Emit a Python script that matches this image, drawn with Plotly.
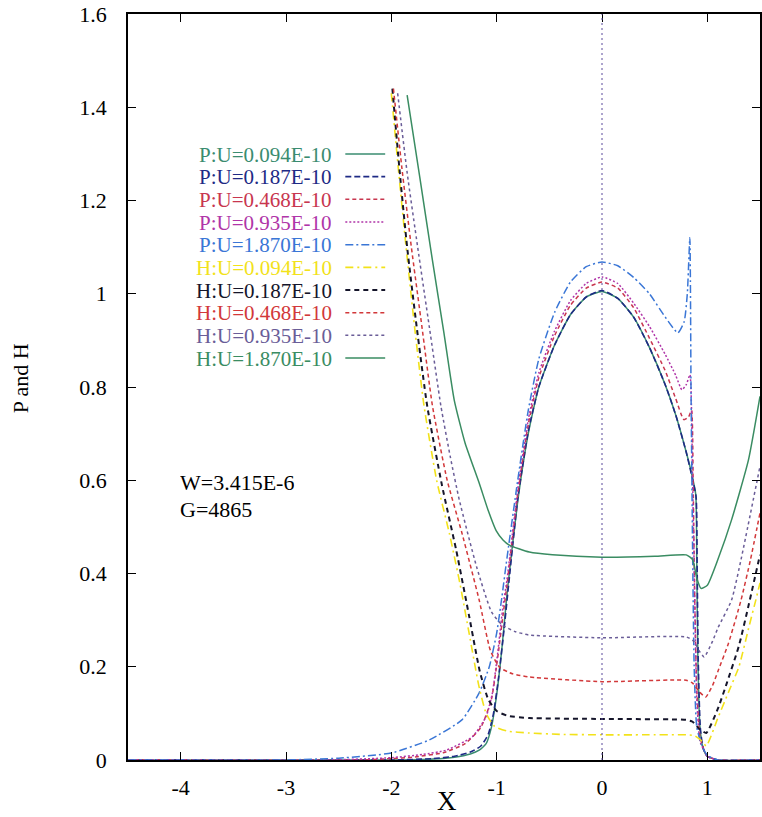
import plotly.graph_objects as go

# ---------------- data ----------------
series_names = ["P:U=0.094E-10", "P:U=0.187E-10", "P:U=0.468E-10", "P:U=0.935E-10", "P:U=1.870E-10",
                "H:U=0.094E-10", "H:U=0.187E-10", "H:U=0.468E-10", "H:U=0.935E-10", "H:U=1.870E-10"]

x_tick_vals = [-4, -3, -2, -1, 0, 1]
x_tick_text = ["-4", "-3", "-2", "-1", "0", "1"]
y_tick_vals = [0, 0.2, 0.4, 0.6, 0.8, 1.0, 1.2, 1.4, 1.6]
y_tick_text = ["0", "0.2", "0.4", "0.6", "0.8", "1", "1.2", "1.4", "1.6"]

p094_x = [-4.5, -2.0, -1.6, -1.4, -1.25, -1.166, -1.1, -1.05, -1.0, -0.95, -0.9, -0.8, -0.7, -0.6, -0.45, -0.3, -0.15, 0.0,
          0.15, 0.3, 0.45, 0.6, 0.7, 0.8, 0.85, 0.89, 0.9, 0.91, 0.93, 0.96, 1.0, 1.1, 1.5]
p094_y = [0, 0, 0.002, 0.006, 0.013, 0.021, 0.035, 0.07, 0.14, 0.24, 0.36, 0.555, 0.70, 0.80, 0.89, 0.955, 0.993, 1.005,
          0.99, 0.95, 0.885, 0.805, 0.74, 0.66, 0.615, 0.57, 0.42, 0.22, 0.07, 0.025, 0.008, 0, 0]

p187_x = [-4.5, -2.0, -1.6, -1.4, -1.25, -1.15, -1.08, -1.03, -0.98, -0.93, -0.88, -0.8, -0.7, -0.6, -0.45, -0.3, -0.15, 0.0,
          0.15, 0.3, 0.45, 0.6, 0.7, 0.8, 0.85, 0.893, 0.903, 0.913, 0.933, 0.96, 1.0, 1.1, 1.5]
p187_y = [0, 0, 0.003, 0.008, 0.017, 0.03, 0.055, 0.1, 0.18, 0.28, 0.39, 0.56, 0.705, 0.80, 0.89, 0.955, 0.993, 1.007,
          0.99, 0.95, 0.885, 0.805, 0.74, 0.66, 0.612, 0.565, 0.42, 0.22, 0.07, 0.025, 0.008, 0, 0]

p468_x = [-4.5, -2.3, -2.0, -1.8, -1.5, -1.3, -1.15, -1.05, -0.99, -0.94, -0.9, -0.8, -0.7, -0.6, -0.45, -0.3, -0.15, 0.0,
          0.15, 0.3, 0.45, 0.6, 0.7, 0.777, 0.82, 0.85, 0.865, 0.88, 0.9, 0.93, 0.97, 1.0, 1.1, 1.5]
p468_y = [0, 0, 0.003, 0.006, 0.016, 0.035, 0.07, 0.13, 0.22, 0.31, 0.38, 0.57, 0.72, 0.82, 0.91, 0.975, 1.012, 1.025,
          1.012, 0.97, 0.905, 0.835, 0.775, 0.73, 0.735, 0.75, 0.60, 0.35, 0.15, 0.05, 0.02, 0.008, 0, 0]

p935_x = [-4.5, -2.6, -2.0, -1.7, -1.48, -1.23, -1.1, -1.04, -0.99, -0.94, -0.9, -0.8, -0.7, -0.6, -0.45, -0.3, -0.15, 0.0,
          0.15, 0.3, 0.45, 0.6, 0.7, 0.758, 0.8, 0.835, 0.86, 0.88, 0.9, 0.93, 0.97, 1.0, 1.1, 1.5]
p935_y = [0, 0, 0.005, 0.012, 0.021, 0.05, 0.093, 0.144, 0.23, 0.33, 0.39, 0.58, 0.73, 0.83, 0.92, 0.985, 1.022, 1.036,
          1.022, 0.98, 0.93, 0.87, 0.825, 0.794, 0.805, 0.826, 0.60, 0.35, 0.13, 0.04, 0.02, 0.008, 0, 0]

p1870_x = [-4.5, -3.0, -2.5, -2.0, -1.64, -1.33, -1.166, -1.07, -1.0, -0.95, -0.91, -0.8, -0.7, -0.6, -0.45, -0.3, -0.15, 0.0,
           0.15, 0.3, 0.45, 0.6, 0.72, 0.78, 0.81, 0.834, 0.845, 0.86, 0.875, 0.9, 0.95, 1.0, 1.1, 1.5]
p1870_y = [0, 0, 0.004, 0.015, 0.043, 0.086, 0.144, 0.2, 0.272, 0.35, 0.42, 0.60, 0.75, 0.86, 0.96, 1.025, 1.058, 1.068,
           1.06, 1.035, 1.0, 0.95, 0.916, 0.94, 1.0, 1.12, 0.80, 0.45, 0.20, 0.07, 0.03, 0.01, 0, 0]

h094_x = [-2.0, -1.93, -1.86, -1.78, -1.69, -1.57, -1.45, -1.35, -1.26, -1.17, -1.1, -1.02, -0.9, -0.7, -0.4, 0.0, 0.4, 0.8,
          0.88, 0.95, 0.99, 1.1, 1.2, 1.3, 1.4, 1.46, 1.5]
h094_y = [1.43, 1.26, 1.10, 0.93, 0.76, 0.60, 0.487, 0.38, 0.27, 0.16, 0.10, 0.072, 0.062, 0.058, 0.055, 0.054, 0.054, 0.054,
          0.052, 0.04, 0.03, 0.09, 0.145, 0.2, 0.29, 0.343, 0.38]

h187_x = [-1.99, -1.92, -1.85, -1.76, -1.66, -1.52, -1.384, -1.26, -1.16, -1.08, -1.0, -0.9, -0.69, 0.0, 0.8, 0.86, 0.93,
          0.99, 1.1, 1.185, 1.3, 1.39, 1.5]
h187_y = [1.44, 1.26, 1.10, 0.93, 0.76, 0.59, 0.45, 0.307, 0.19, 0.13, 0.105, 0.095, 0.09, 0.088, 0.086, 0.082, 0.065,
          0.058, 0.11, 0.165, 0.245, 0.33, 0.44]

h468_x = [-1.98, -1.9, -1.81, -1.71, -1.61, -1.47, -1.33, -1.166, -1.06, -0.97, -0.85, -0.69, 0.0, 0.8, 0.86, 0.93, 0.985,
          1.05, 1.1, 1.2, 1.32, 1.41, 1.5]
h468_y = [1.44, 1.27, 1.10, 0.93, 0.76, 0.60, 0.487, 0.343, 0.235, 0.198, 0.185, 0.178, 0.168, 0.171, 0.165, 0.145, 0.135,
          0.16, 0.19, 0.25, 0.343, 0.43, 0.53]

h935_x = [-1.94, -1.85, -1.75, -1.64, -1.53, -1.44, -1.355, -1.19, -1.05, -0.95, -0.82, -0.69, 0.0, 0.8, 0.87, 0.92, 0.97,
          1.05, 1.1, 1.23, 1.32, 1.5]
h935_y = [1.43, 1.26, 1.10, 0.93, 0.76, 0.65, 0.558, 0.414, 0.318, 0.29, 0.275, 0.268, 0.262, 0.264, 0.255, 0.235, 0.221,
          0.255, 0.283, 0.343, 0.43, 0.63]

h1870_x = [-1.85, -1.73, -1.61, -1.5, -1.403, -1.3, -1.166, -1.08, -1.005, -0.94, -0.88, -0.69, -0.47, 0.0, 0.5, 0.8, 0.86,
           0.9, 0.94, 1.0, 1.1, 1.23, 1.39, 1.5]
h1870_y = [1.426, 1.25, 1.072, 0.915, 0.772, 0.68, 0.594, 0.535, 0.492, 0.472, 0.461, 0.446, 0.44, 0.435, 0.437, 0.44, 0.43,
           0.39, 0.368, 0.375, 0.43, 0.515, 0.643, 0.78]

series_x = [p094_x, p187_x, p468_x, p935_x, p1870_x, h094_x, h187_x, h468_x, h935_x, h1870_x]
series_y = [p094_y, p187_y, p468_y, p935_y, p1870_y, h094_y, h187_y, h468_y, h935_y, h1870_y]

# ---------------- styles ----------------
colors = ["#3a8c70", "#1e2a85", "#c8364f", "#b035a8", "#3a76d6",
          "#f2e21a", "#15152a", "#d2383a", "#6a5d98", "#3a8c62"]
dashes = ["solid", "6px,3px", "4px,3px", "2px,2px", "8px,3px,2px,3px",
          "8px,4px,2px,4px", "5px,4px", "4px,3px", "3px,3px", "solid"]
widths = [1.5, 1.6, 1.5, 1.5, 1.5, 1.6, 2.0, 1.5, 1.5, 1.5]

FONT = "Times New Roman, Liberation Serif, serif"

fig = go.Figure()
for name, xs, ys, c, d, w in zip(series_names, series_x, series_y, colors, dashes, widths):
    fig.add_trace(go.Scatter(x=xs, y=ys, mode="lines", name=name, showlegend=False,
                             line=dict(color=c, dash=d, width=w, shape="spline", smoothing=0.5)))

# vertical dotted line at x = 0
fig.add_vline(x=0, line=dict(color="#5b4a9c", width=1, dash="2px,3px"))

W, H = 762, 817
ml, mt, mr, mb = 128, 14, 0, 57
pw, ph = W - ml - mr, H - mt - mb

def px2paper_x(px):
    return (px - ml) / pw

def px2paper_y(py):
    return (H - mb - py) / ph

# custom legend: right-aligned text followed by a line sample
row0, row_step = 154, 22.67
for i, (name, c, d, w) in enumerate(zip(series_names, colors, dashes, widths)):
    yy = px2paper_y(row0 + i * row_step)
    fig.add_annotation(x=px2paper_x(334), y=yy, xref="paper", yref="paper", text=name, showarrow=False,
                       xanchor="right", yanchor="middle", height=21, valign="middle", borderpad=0,
                       font=dict(family=FONT, size=21, color=c))
    fig.add_shape(type="line", xref="paper", yref="paper", x0=px2paper_x(346), x1=px2paper_x(386), y0=yy, y1=yy,
                  line=dict(color=c, dash=d, width=w))

fig.add_annotation(x=px2paper_x(179), y=px2paper_y(482), xref="paper", yref="paper", text="W=3.415E-6",
                   showarrow=False, xanchor="left", yanchor="middle", height=24, borderpad=0,
                   font=dict(family=FONT, size=22, color="black"))
fig.add_annotation(x=px2paper_x(179), y=px2paper_y(509), xref="paper", yref="paper", text="G=4865",
                   showarrow=False, xanchor="left", yanchor="middle", height=24, borderpad=0,
                   font=dict(family=FONT, size=22, color="black"))
fig.add_annotation(x=px2paper_x(448), y=px2paper_y(801), xref="paper", yref="paper", text="X",
                   showarrow=False, xanchor="center", yanchor="middle", font=dict(family=FONT, size=27, color="black"))
fig.add_annotation(x=px2paper_x(20), y=px2paper_y(378), xref="paper", yref="paper", text="P and H",
                   showarrow=False, textangle=-90, xanchor="center", yanchor="middle",
                   font=dict(family=FONT, size=22, color="black"))

axis_common = dict(showgrid=False, zeroline=False, showline=True, linecolor="black", linewidth=1.6,
                   mirror="ticks", ticks="inside", ticklen=8, tickwidth=1.4, tickcolor="black",
                   tickfont=dict(family=FONT, size=22, color="black"))
fig.update_xaxes(range=[-4.5, 1.5], tickmode="array", tickvals=x_tick_vals, ticktext=x_tick_text,
                 ticklabelstandoff=7, **axis_common)
fig.update_yaxes(range=[0, 1.6], tickmode="array", tickvals=y_tick_vals, ticktext=y_tick_text,
                 ticklabelstandoff=15, **axis_common)

fig.update_layout(width=W, height=H, margin=dict(l=ml, r=mr, t=mt, b=mb),
                  paper_bgcolor="white", plot_bgcolor="white", showlegend=False,
                  font=dict(family=FONT, color="black"))

fig.write_html("out.html")
